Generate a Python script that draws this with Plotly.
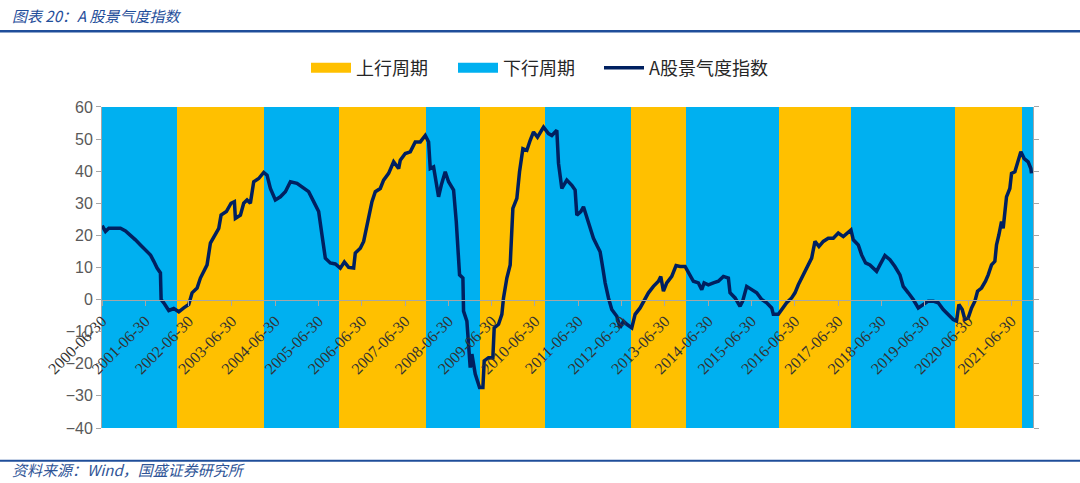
import plotly.graph_objects as go
import pandas as pd

# ---------------- data ----------------
cycle_start = ["2000-06-30", "2002-03-26", "2004-03-28", "2005-12-22", "2007-12-24",
               "2009-03-24", "2010-09-22", "2012-09-16", "2013-12-21", "2016-02-15",
               "2017-10-15", "2020-03-10", "2021-09-30"]
cycle_end = ["2002-03-26", "2004-03-28", "2005-12-22", "2007-12-24", "2009-03-24",
             "2010-09-22", "2012-09-16", "2013-12-21", "2016-02-15", "2017-10-15",
             "2020-03-10", "2021-09-30", "2021-12-31"]
cycle_type = ["下行周期", "上行周期", "下行周期", "上行周期", "下行周期",
              "上行周期", "下行周期", "上行周期", "下行周期", "上行周期",
              "下行周期", "上行周期", "下行周期"]

# time in decimal years
t_year = [
    2000.500, 2000.576, 2000.653, 2000.922, 2001.038, 2001.153, 2001.268, 2001.384, 2001.499, 2001.615,
    2001.692, 2001.768, 2001.845, 2001.861, 2001.922, 2002.038, 2002.153, 2002.269, 2002.384, 2002.499,
    2002.576, 2002.692, 2002.768, 2002.845, 2002.922, 2002.999, 2003.115, 2003.192, 2003.245, 2003.368,
    2003.476, 2003.553, 2003.576, 2003.692, 2003.768, 2003.845, 2003.922, 2003.999, 2004.115, 2004.230,
    2004.307, 2004.384, 2004.499, 2004.615, 2004.730, 2004.846, 2004.999, 2005.153, 2005.268, 2005.384,
    2005.499, 2005.576, 2005.653, 2005.768,
    2005.884, 2005.999, 2006.092, 2006.192, 2006.307, 2006.345, 2006.461, 2006.538, 2006.576, 2006.653,
    2006.730, 2006.807, 2006.922, 2006.999, 2007.115, 2007.230, 2007.346, 2007.384, 2007.499, 2007.615,
    2007.730, 2007.846, 2007.961, 2008.038, 2008.076, 2008.153, 2008.215, 2008.268, 2008.330, 2008.422,
    2008.499, 2008.615, 2008.677, 2008.753, 2008.830, 2008.845, 2008.922, 2008.961, 2008.999, 2009.038,
    2009.115, 2009.215, 2009.292, 2009.322, 2009.422, 2009.522, 2009.553, 2009.653, 2009.730, 2009.768,
    2009.845, 2009.922, 2009.984, 2010.076, 2010.138, 2010.215, 2010.307, 2010.384, 2010.461, 2010.553,
    2010.692, 2010.807, 2010.884, 2010.999, 2011.038,
    2011.115, 2011.230, 2011.346, 2011.422, 2011.461, 2011.553, 2011.615, 2011.692, 2011.768, 2011.845,
    2011.938, 2011.999, 2012.061, 2012.115, 2012.192, 2012.268, 2012.384, 2012.461, 2012.538, 2012.615,
    2012.730, 2012.807, 2012.922, 2013.038, 2013.115, 2013.230, 2013.346, 2013.400, 2013.461, 2013.538,
    2013.653, 2013.753, 2013.846, 2013.961, 2014.038, 2014.153, 2014.268, 2014.346, 2014.400, 2014.499,
    2014.615, 2014.730, 2014.846, 2014.961, 2014.999, 2015.115, 2015.230, 2015.291, 2015.384, 2015.499,
    2015.615, 2015.730, 2015.846, 2015.961, 2015.999, 2016.115, 2016.192, 2016.307, 2016.422,
    2016.499, 2016.576, 2016.653, 2016.730, 2016.807, 2016.884, 2016.961, 2017.053, 2017.153, 2017.268,
    2017.384, 2017.499, 2017.615, 2017.730, 2017.792, 2017.846, 2017.961, 2018.038, 2018.130, 2018.230,
    2018.307, 2018.384, 2018.461, 2018.576, 2018.692, 2018.807, 2018.923, 2018.999, 2019.115, 2019.230,
    2019.346, 2019.461, 2019.576, 2019.692, 2019.807, 2019.923, 2020.038, 2020.153, 2020.230, 2020.284,
    2020.361, 2020.423, 2020.500, 2020.577, 2020.654, 2020.715, 2020.807, 2020.899, 2020.961, 2021.038,
    2021.115, 2021.153, 2021.207, 2021.269, 2021.307, 2021.346, 2021.384, 2021.461, 2021.500, 2021.577,
    2021.638, 2021.715, 2021.792, 2021.884, 2021.946, 2021.961,
]
index_vals = [
    23.0, 21.2, 22.2, 22.2, 21.4, 20.1, 18.6, 17.0, 15.5, 13.9,
    11.9, 9.8, 8.3, 0.0, -1.0, -3.4, -2.8, -3.8, -2.6, -1.5,
    2.1, 3.6, 6.7, 8.8, 10.8, 17.6, 20.1, 22.2, 26.3, 27.4,
    30.0, 30.5, 25.3, 26.3, 30.0, 31.0, 30.0, 36.7, 37.7, 39.6,
    38.7, 34.6, 31.0, 32.0, 33.6, 36.7, 36.2, 34.6, 33.6, 30.5,
    27.4, 20.1, 12.9, 11.4,
    11.1, 9.8, 11.7, 10.0, 9.8, 14.5, 16.0, 18.1, 20.7, 25.3,
    30.5, 33.6, 34.6, 37.2, 39.3, 42.9, 40.8, 43.4, 45.5, 46.0,
    49.1, 49.1, 51.1, 49.1, 40.8, 41.3, 36.2, 32.0, 35.6, 39.8,
    36.7, 34.1, 24.3, 7.7, 6.7, -3.6, -6.7, -12.9, -21.2, -17.0,
    -23.2, -27.4, -27.4, -19.1, -18.1, -18.1, -8.8, -7.7, -4.6, 0.5,
    6.7, 10.8, 28.4, 31.5, 39.8, 47.0, 46.5, 49.6, 52.2, 50.6,
    53.7, 51.7, 51.1, 52.7, 42.4,
    34.6, 37.2, 35.6, 34.1, 26.3, 27.4, 28.9, 25.8, 22.2, 19.1,
    16.5, 14.9, 9.8, 5.2, 0.5, -3.1, -5.2, -8.8, -6.7, -7.7,
    -8.8, -4.6, -2.6, 0.0, 2.1, 4.1, 5.7, 7.2, 2.6, 5.2,
    7.2, 10.6, 10.3, 10.3, 8.3, 5.7, 5.2, 3.1, 5.2, 4.6,
    5.2, 5.7, 7.2, 6.7, 2.1, 0.5, -2.1, -0.5, 4.1, 3.1,
    2.1, 0.0, -1.0, -2.6, -4.6, -4.6, -3.1, -1.0, 0.5,
    2.1, 4.6, 6.7, 9.3, 10.8, 12.9, 18.1, 16.5, 18.1, 19.1,
    19.1, 20.7, 19.6, 21.2, 21.7, 18.6, 17.0, 13.9, 11.4, 10.8,
    9.8, 8.8, 10.8, 13.7, 12.4, 10.3, 7.7, 4.1, 2.1, 0.0,
    -2.6, -1.5, -0.5, -0.5, -1.0, -3.1, -4.6, -6.2, -6.7, -1.5,
    -3.1, -6.2, -5.7, -2.6, -0.5, 2.6, 3.6, 5.7, 7.7, 10.8,
    11.9, 17.0, 20.1, 24.3, 22.2, 26.3, 32.0, 34.6, 39.3, 39.8,
    42.4, 46.0, 43.9, 42.9, 40.8, 39.3,
]

tick_labels = ["2000-06-30", "2001-06-30", "2002-06-30", "2003-06-30", "2004-06-30",
               "2005-06-30", "2006-06-30", "2007-06-30", "2008-06-30", "2009-06-30",
               "2010-06-30", "2011-06-30", "2012-06-30", "2013-06-30", "2014-06-30",
               "2015-06-30", "2016-06-30", "2017-06-30", "2018-06-30", "2019-06-30",
               "2020-06-30", "2021-06-30"]

UP_COLOR = "#FFC000"
DOWN_COLOR = "#00B0F0"
LINE_COLOR = "#002060"
Y_MIN, Y_MAX = -40, 60

# ---------------- helpers ----------------
def year_to_date(t):
    return pd.Timestamp("2000-01-01") + pd.Timedelta(days=(t - 2000) * 365.25)

dates = [year_to_date(t) for t in t_year]

fig = go.Figure()

legend_ids = {"上行周期": "legend", "下行周期": "legend2"}
for name, color in [("上行周期", UP_COLOR), ("下行周期", DOWN_COLOR)]:
    xs, ws = [], []
    for s, e, ty in zip(cycle_start, cycle_end, cycle_type):
        if ty != name:
            continue
        s_ts, e_ts = pd.Timestamp(s), pd.Timestamp(e)
        xs.append(s_ts + (e_ts - s_ts) / 2)
        ws.append((e_ts - s_ts).total_seconds() * 1000)
    fig.add_trace(go.Bar(
        x=xs, y=[Y_MAX - Y_MIN] * len(xs), base=[Y_MIN] * len(xs), width=ws,
        marker=dict(color=color, line=dict(width=0)),
        name=name, legendgroup=name, showlegend=False, hoverinfo="skip",
    ))
    # legend swatch (wide rectangle)
    fig.add_trace(go.Scatter(
        x=[None], y=[None], mode="lines", name=name, legendgroup=name,
        line=dict(color=color, width=10), legend=legend_ids[name],
    ))

fig.add_trace(go.Scatter(
    x=dates, y=index_vals, mode="lines", name="A股景气度指数",
    line=dict(color=LINE_COLOR, width=3.5), legend="legend3",
))

tick_dates = [pd.Timestamp(s) for s in tick_labels]

W, H = 1080, 483
L, R, T, B = 102, 47, 105, 55
PW, PH = W - L - R, H - T - B

def px_x(x):
    return (x - L) / PW

def px_y(y):
    return (H - B - y) / PH

def legend_at(xpx):
    return dict(
        orientation="h", xref="container", yref="container",
        x=xpx / W, xanchor="left", y=1 - 68 / H, yanchor="middle",
        font=dict(size=18, family="Noto Sans CJK SC", color="#262626"),
        itemwidth=40, bgcolor="rgba(0,0,0,0)",
    )

fig.update_layout(
    width=W, height=H,
    margin=dict(l=L, r=R, t=T, b=B),
    plot_bgcolor="white", paper_bgcolor="white",
    barmode="overlay", bargap=0,
    font=dict(family="Noto Sans CJK SC", color="#262626"),
    legend=legend_at(306),
    legend2=legend_at(453),
    legend3=legend_at(599),
    xaxis=dict(
        type="date",
        range=[pd.Timestamp("2000-06-30"), pd.Timestamp("2021-12-30")],
        tickvals=tick_dates, ticktext=tick_labels, tickangle=-45,
        anchor="free", position=(0 - Y_MIN) / (Y_MAX - Y_MIN),
        showline=True, linecolor="#A6A6A6", linewidth=1,
        ticks="outside", ticklen=5, tickcolor="#A6A6A6",
        showgrid=False, zeroline=False,
        tickfont=dict(family="Liberation Serif", size=16, color="#333333"),
    ),
    yaxis=dict(
        range=[Y_MIN, Y_MAX], dtick=10, domain=[0, 1],
        showline=True, linecolor="#A6A6A6", linewidth=1, mirror="ticks",
        ticks="outside", ticklen=5, tickcolor="#A6A6A6",
        showgrid=False, zeroline=False,
        tickfont=dict(family="Liberation Sans", size=16, color="#595959"),
    ),
    shapes=[
        dict(type="line", xref="paper", yref="paper",
             x0=px_x(0), x1=px_x(W), y0=px_y(29), y1=px_y(29),
             line=dict(color="#1F4E9A", width=2.5)),
        dict(type="line", xref="paper", yref="paper",
             x0=px_x(0), x1=px_x(W), y0=px_y(461), y1=px_y(461),
             line=dict(color="#1F4E9A", width=2)),
    ],
    annotations=[
        dict(text="<i>图表 20：A 股景气度指数</i>", xref="paper", yref="paper",
             x=px_x(10), y=px_y(13), xanchor="left", yanchor="middle",
             showarrow=False, font=dict(size=15, color="#1F4E9A", family="Noto Sans CJK SC")),
        dict(text="<i>资料来源：Wind，国盛证券研究所</i>", xref="paper", yref="paper",
             x=px_x(10), y=px_y(470), xanchor="left", yanchor="middle",
             showarrow=False, font=dict(size=15, color="#2F5597", family="Noto Sans CJK SC")),
    ],
)

fig.write_html("out.html", config={"displayModeBar": False},
               post_script="document.body.style.margin='0';")
